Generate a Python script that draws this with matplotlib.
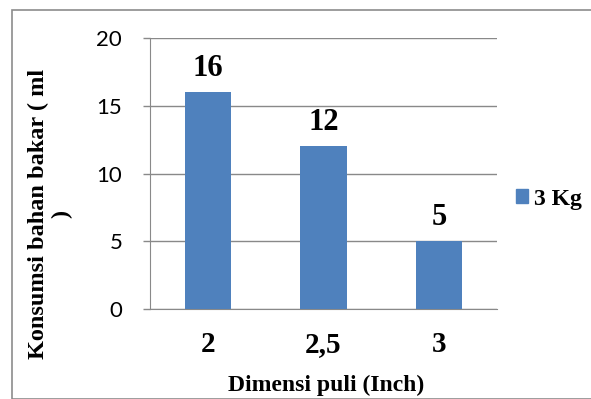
import matplotlib
matplotlib.use("Agg")
import matplotlib.pyplot as plt
from matplotlib.patches import Rectangle, Patch

categories = ["2", "2,5", "3"]
values = [16, 12, 5]
series_name = "3 Kg"
y_ticks = [0, 5, 10, 15, 20]

fig = plt.figure(figsize=(5.91, 3.99), dpi=100)
ax = fig.add_axes([150/591, 1-309/399, 347/591, 271/399])

bar_color = "#4F81BD"
grid_color = "#898989"
x = list(range(len(categories)))
bars = ax.bar(x, values, width=0.4, color=bar_color, zorder=3)
ax.set_xlim(-0.5, len(categories)-0.5)
ax.set_ylim(0, 20)
ax.set_yticks(y_ticks)
ax.set_yticklabels([str(v) for v in y_ticks], fontfamily="Lato", fontsize=16)
ax.set_xticks(x)
ax.set_xticklabels(categories, fontfamily="Liberation Serif", fontweight="bold", fontsize=21)
ax.tick_params(axis="x", length=0, pad=16)
ax.tick_params(axis="y", length=5, color=grid_color, width=1, pad=15)
ax.yaxis.grid(True, color=grid_color, linewidth=1, zorder=0)
for s in ["top", "right"]:
    ax.spines[s].set_visible(False)
ax.spines["left"].set_color(grid_color)
ax.spines["bottom"].set_color(grid_color)

for xi, v in zip(x, values):
    ax.text(xi, v + 0.7, str(v), ha="center", va="bottom",
            fontfamily="Liberation Serif", fontweight="bold", fontsize=22)

fig.text(326/591, 1-385/399, "Dimensi puli (Inch)", ha="center", va="center",
         fontfamily="Liberation Serif", fontweight="bold", fontsize=17)
fig.text(50/591, 1-214/399, "Konsumsi bahan bakar ( ml\n)", ha="center", va="center",
         rotation=90, fontfamily="Liberation Serif", fontweight="bold", fontsize=17.5,
         linespacing=1.1)

leg = fig.legend(handles=[Patch(color=bar_color, label=series_name)],
                 loc="center left", bbox_to_anchor=(516/591, 1-199/399),
                 frameon=False, handlelength=0.5, handleheight=0.5, handletextpad=0.25,
                 borderpad=0, borderaxespad=0,
                 prop={"family": "Liberation Serif", "weight": "bold", "size": 17})

fig.patches.append(Rectangle((12/591, 0), 1, 1-10/399, transform=fig.transFigure,
                             fill=False, edgecolor="#8c8c8c", linewidth=1.2))
fig.savefig("out.png", dpi=100)
